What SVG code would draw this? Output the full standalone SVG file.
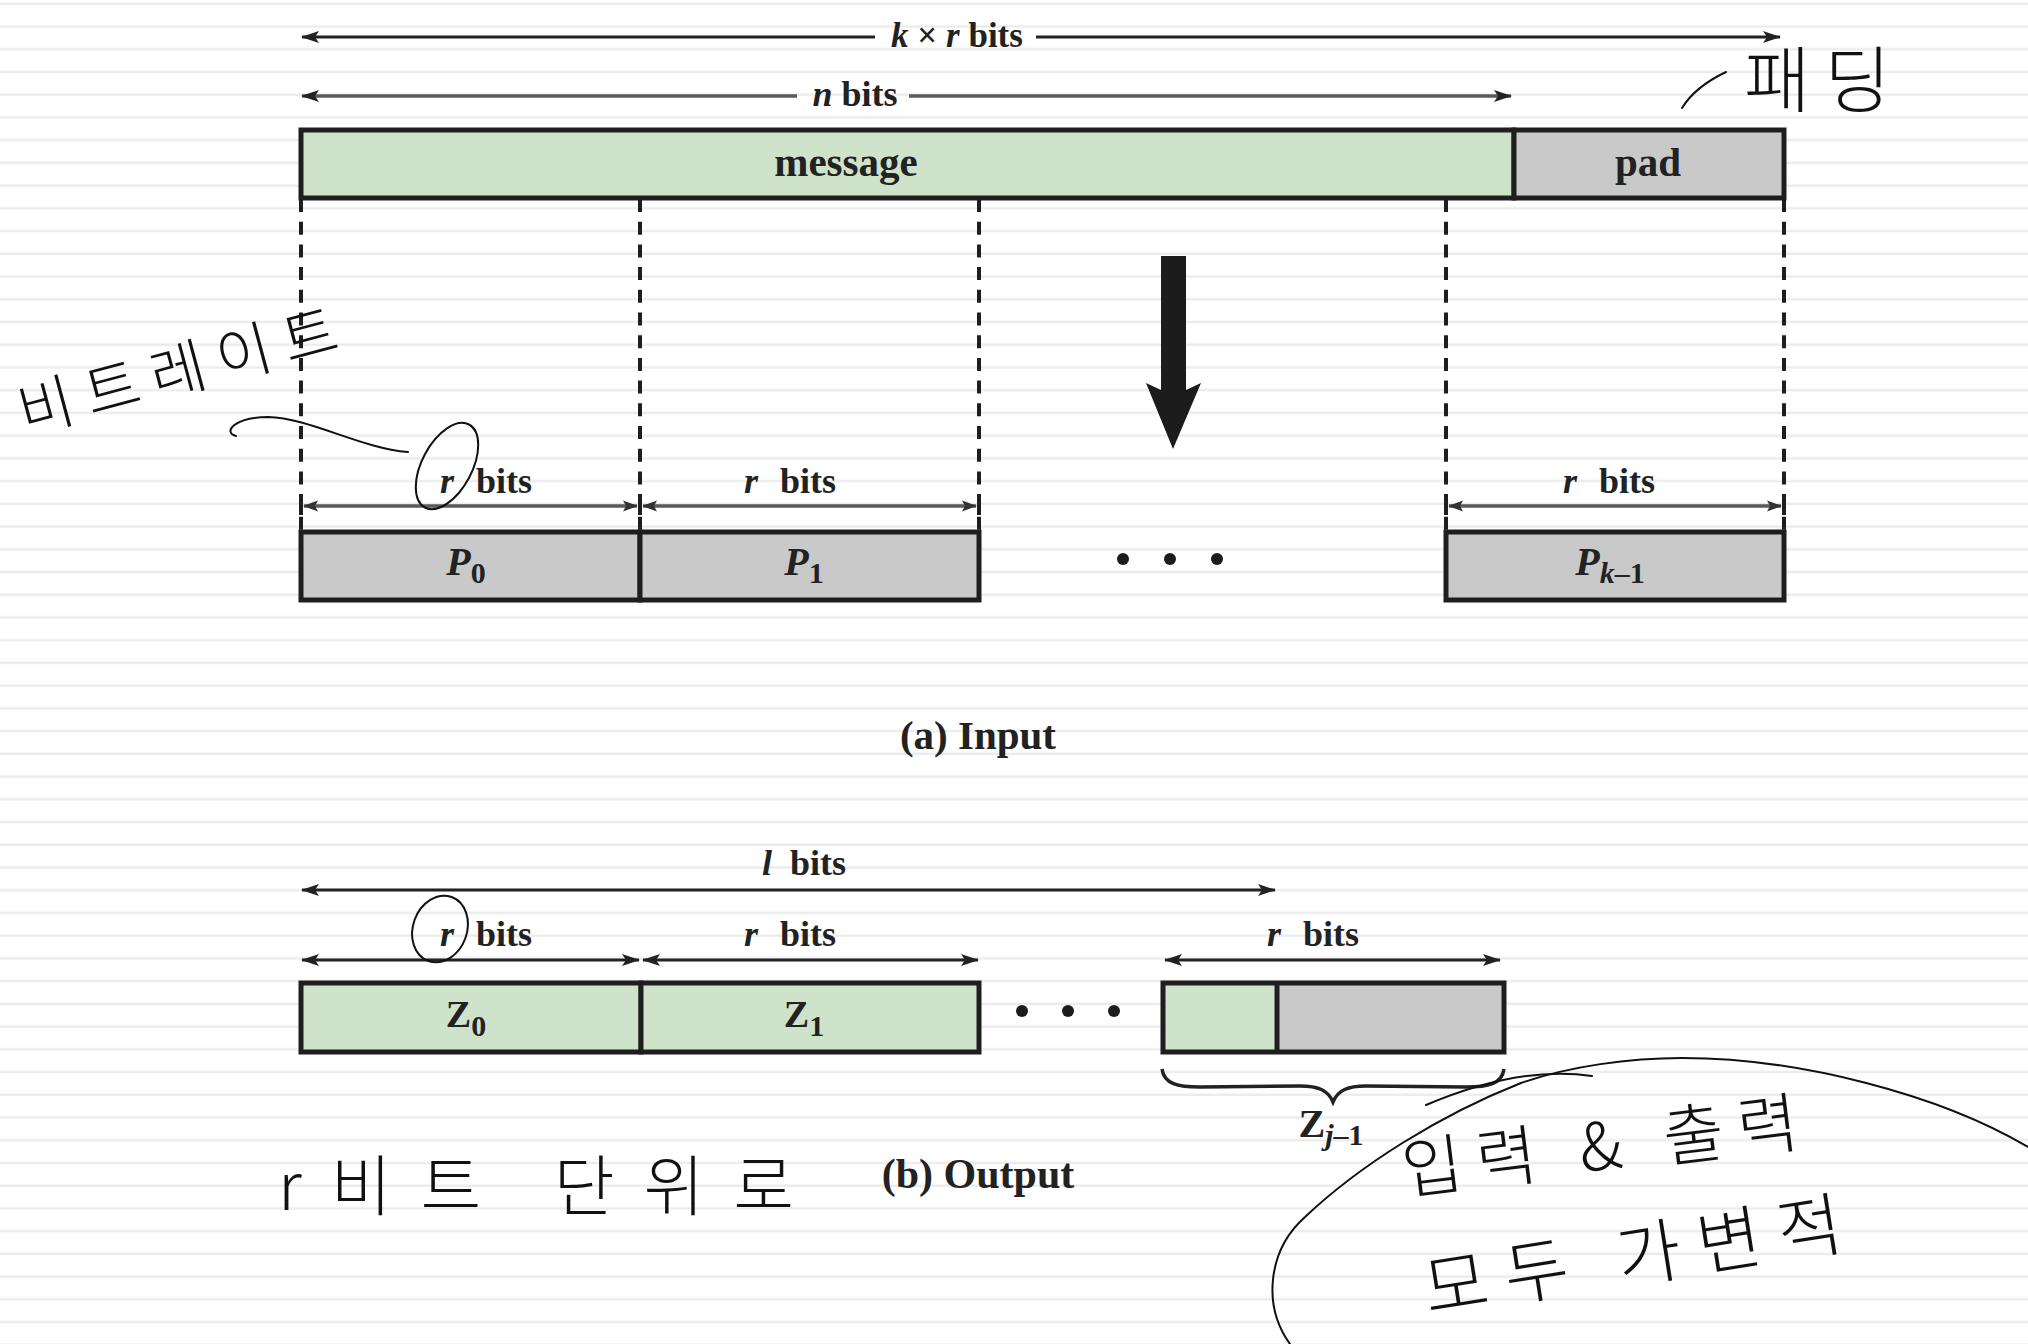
<svg xmlns="http://www.w3.org/2000/svg" width="2028" height="1344" viewBox="0 0 2028 1344">
<defs>
<style>
.t{font-family:"Liberation Serif","Times New Roman",serif;font-weight:bold;fill:#222}
.i{font-style:italic}
.n{font-style:normal}
.hw{font-family:"Noto Sans CJK KR","Noto Sans CJK JP",sans-serif;font-weight:300;fill:#111}
.box{stroke:#1e1e1e;stroke-width:5}
.gn{fill:#cfe3cb}
.gy{fill:#c9c9c9}
.dash{stroke:#1e1e1e;stroke-width:4;stroke-dasharray:13 9.7;fill:none}
.dim{stroke:#222;stroke-width:3;fill:none}
.dimg{stroke:#5a5a5a;stroke-width:3.5;fill:none}
.bar{stroke:#1e1e1e;stroke-width:4}
.pen{stroke:#111;stroke-width:2;fill:none;stroke-linecap:round}
</style>
<pattern id="ruled" x="0" y="0" width="2028" height="22.73" patternUnits="userSpaceOnUse">
<rect x="0" y="2.5" width="2028" height="2.5" fill="#ececec"/>
</pattern>
<marker id="ah" viewBox="0 0 18 14" refX="17" refY="7" markerWidth="18" markerHeight="14" markerUnits="userSpaceOnUse" orient="auto">
<path d="M0,1 L18,7 L0,13 L4,7 z" fill="#222"/>
</marker>
<marker id="ahs" viewBox="0 0 15 12" refX="14" refY="6" markerWidth="15" markerHeight="12" markerUnits="userSpaceOnUse" orient="auto">
<path d="M0,0.5 L15,6 L0,11.5 L3,6 z" fill="#333"/>
</marker>
</defs>
<rect width="2028" height="1344" fill="#fff"/>
<rect width="2028" height="1344" fill="url(#ruled)"/>

<g id="connectors">
<line class="dim" x1="875" y1="37" x2="302" y2="37" marker-end="url(#ah)"/>
<line class="dim" x1="1036" y1="37" x2="1780" y2="37" marker-end="url(#ah)"/>
<line class="dimg" x1="797" y1="96" x2="302" y2="96" marker-end="url(#ah)"/>
<line class="dimg" x1="909" y1="96" x2="1511" y2="96" marker-end="url(#ah)"/>
<line class="dash" x1="301" y1="199" x2="301" y2="530"/>
<line class="dash" x1="640" y1="199" x2="640" y2="530"/>
<line class="dash" x1="979" y1="199" x2="979" y2="530"/>
<line class="dash" x1="1446" y1="199" x2="1446" y2="530"/>
<line class="dash" x1="1784" y1="199" x2="1784" y2="530"/>
<line class="bar" x1="301" y1="498" x2="301" y2="515"/>
<line class="bar" x1="640" y1="498" x2="640" y2="515"/>
<line class="bar" x1="979" y1="498" x2="979" y2="515"/>
<line class="bar" x1="1446" y1="498" x2="1446" y2="515"/>
<line class="bar" x1="1784" y1="498" x2="1784" y2="515"/>
<line class="dimg" x1="470" y1="506" x2="304" y2="506" marker-end="url(#ahs)"/>
<line class="dimg" x1="470" y1="506" x2="637" y2="506" marker-end="url(#ahs)"/>
<line class="dimg" x1="810" y1="506" x2="643" y2="506" marker-end="url(#ahs)"/>
<line class="dimg" x1="810" y1="506" x2="976" y2="506" marker-end="url(#ahs)"/>
<line class="dimg" x1="1615" y1="506" x2="1449" y2="506" marker-end="url(#ahs)"/>
<line class="dimg" x1="1615" y1="506" x2="1781" y2="506" marker-end="url(#ahs)"/>
<path d="M1161,256 L1186,256 L1186,390 L1201,383 L1173,449 L1146,383 L1161,390 Z" fill="#1c1c1c"/>
<line class="dim" x1="790" y1="890" x2="302" y2="890" marker-end="url(#ah)"/>
<line class="dim" x1="790" y1="890" x2="1275" y2="890" marker-end="url(#ah)"/>
<line class="dim" x1="470" y1="960" x2="302" y2="960" marker-end="url(#ah)"/>
<line class="dim" x1="470" y1="960" x2="639" y2="960" marker-end="url(#ah)"/>
<line class="dim" x1="810" y1="960" x2="643" y2="960" marker-end="url(#ah)"/>
<line class="dim" x1="810" y1="960" x2="978" y2="960" marker-end="url(#ah)"/>
<line class="dim" x1="1333" y1="960" x2="1165" y2="960" marker-end="url(#ah)"/>
<line class="dim" x1="1333" y1="960" x2="1500" y2="960" marker-end="url(#ah)"/>
<path d="M1162,1069 C1164,1084 1178,1087 1200,1087 L1300,1086 C1318,1086 1328,1090 1333,1102 C1338,1090 1348,1086 1366,1086 L1466,1087 C1488,1087 1502,1084 1504,1069" fill="none" stroke="#222" stroke-width="3.5"/>
</g>

<g id="labels-top">
<text class="t" x="957" y="47" text-anchor="middle" font-size="35"><tspan class="i">k</tspan> × <tspan class="i">r</tspan> bits</text>
<text class="t" x="855" y="106" text-anchor="middle" font-size="36"><tspan class="i">n</tspan> bits</text>
</g>

<g id="message">
<rect class="box gn" x="301" y="130" width="1213" height="68"/>
<text class="t" x="846" y="176" text-anchor="middle" font-size="41">message</text>
</g>
<g id="pad">
<rect class="box gy" x="1514" y="130" width="270" height="68"/>
<text class="t" x="1648" y="176" text-anchor="middle" font-size="41">pad</text>
</g>

<g id="P0">
<rect class="box gy" x="301" y="532" width="339" height="68"/>
<text class="t" x="440" y="493" font-size="36"><tspan class="i">r</tspan><tspan dx="22">bits</tspan></text>
<text class="t i" x="466" y="575" text-anchor="middle" font-size="40">P<tspan class="n" font-size="30" dy="8">0</tspan></text>
</g>
<g id="P1">
<rect class="box gy" x="640" y="532" width="339" height="68"/>
<text class="t" x="744" y="493" font-size="36"><tspan class="i">r</tspan><tspan dx="22">bits</tspan></text>
<text class="t i" x="804" y="575" text-anchor="middle" font-size="40">P<tspan class="n" font-size="30" dy="8">1</tspan></text>
</g>
<g id="dots-in">
<circle cx="1123" cy="559" r="6" fill="#1c1c1c"/>
<circle cx="1170" cy="559" r="6" fill="#1c1c1c"/>
<circle cx="1217" cy="559" r="6" fill="#1c1c1c"/>
</g>
<g id="Pk-1">
<rect class="box gy" x="1446" y="532" width="338" height="68"/>
<text class="t" x="1563" y="493" font-size="36"><tspan class="i">r</tspan><tspan dx="22">bits</tspan></text>
<text class="t i" x="1610" y="575" text-anchor="middle" font-size="40">P<tspan font-size="30" dy="8">k</tspan><tspan class="n" font-size="30">–1</tspan></text>
</g>

<text class="t" x="978" y="749" text-anchor="middle" font-size="41">(a) Input</text>

<g id="lbits">
<text class="t" x="762" y="875" font-size="36"><tspan class="i">l</tspan><tspan dx="18">bits</tspan></text>
</g>
<g id="Z0">
<rect class="box gn" x="301" y="983" width="340" height="69"/>
<text class="t" x="440" y="946" font-size="36"><tspan class="i">r</tspan><tspan dx="22">bits</tspan></text>
<text class="t" x="466" y="1027" text-anchor="middle" font-size="38">Z<tspan font-size="30" dy="9">0</tspan></text>
</g>
<g id="Z1">
<rect class="box gn" x="641" y="983" width="338" height="69"/>
<text class="t" x="744" y="946" font-size="36"><tspan class="i">r</tspan><tspan dx="22">bits</tspan></text>
<text class="t" x="804" y="1027" text-anchor="middle" font-size="38">Z<tspan font-size="30" dy="9">1</tspan></text>
</g>
<g id="dots-out">
<circle cx="1022" cy="1011" r="6" fill="#1c1c1c"/>
<circle cx="1068" cy="1011" r="6" fill="#1c1c1c"/>
<circle cx="1114" cy="1011" r="6" fill="#1c1c1c"/>
</g>
<g id="Zj-1">
<rect class="gn" x="1163" y="983" width="114" height="69"/>
<rect class="gy" x="1277" y="983" width="227" height="69"/>
<rect class="box" fill="none" x="1163" y="983" width="341" height="69"/>
<line class="box" x1="1277" y1="983" x2="1277" y2="1052"/>
<text class="t" x="1267" y="946" font-size="36"><tspan class="i">r</tspan><tspan dx="22">bits</tspan></text>
<text class="t" x="1331" y="1137" text-anchor="middle" font-size="40">Z<tspan class="i" font-size="30" dy="8">j</tspan><tspan font-size="30">–1</tspan></text>
</g>

<text class="t" x="978" y="1188" text-anchor="middle" font-size="42">(b) Output</text>

<g id="annotations">
<text class="hw" x="25" y="434" font-size="60" letter-spacing="13" transform="rotate(-15 25 434)">비트레이트</text>
<path class="pen" d="M236,436 C222,432 235,417 268,417 C310,418 360,448 408,452"/>
<ellipse class="pen" cx="447" cy="466" rx="25" ry="47" transform="rotate(28 447 466)"/>
<path class="pen" d="M1682,108 C1690,95 1705,82 1726,72"/>
<text class="hw" x="1744" y="106" font-size="72" letter-spacing="14">패딩</text>
<ellipse class="pen" cx="440" cy="929" rx="27" ry="34" transform="rotate(20 440 929)"/>
<text class="hw" x="278" y="1210" font-size="66" letter-spacing="29">r비트 단위로</text>
<path class="pen" d="M1290,1344 C1262,1305 1268,1250 1305,1217 C1360,1165 1440,1115 1521,1083 C1570,1066 1630,1058 1682,1058 C1800,1058 1940,1095 2028,1147"/>
<path class="pen" d="M1426,1105 Q1520,1065 1592,1076"/>
<text class="hw" x="1405" y="1194" font-size="66" letter-spacing="14" transform="rotate(-7 1405 1194)">입력 &amp; 출력</text>
<text class="hw" x="1428" y="1314" font-size="70" letter-spacing="17" transform="rotate(-9 1428 1314)">모두 가변적</text>
</g>
</svg>
